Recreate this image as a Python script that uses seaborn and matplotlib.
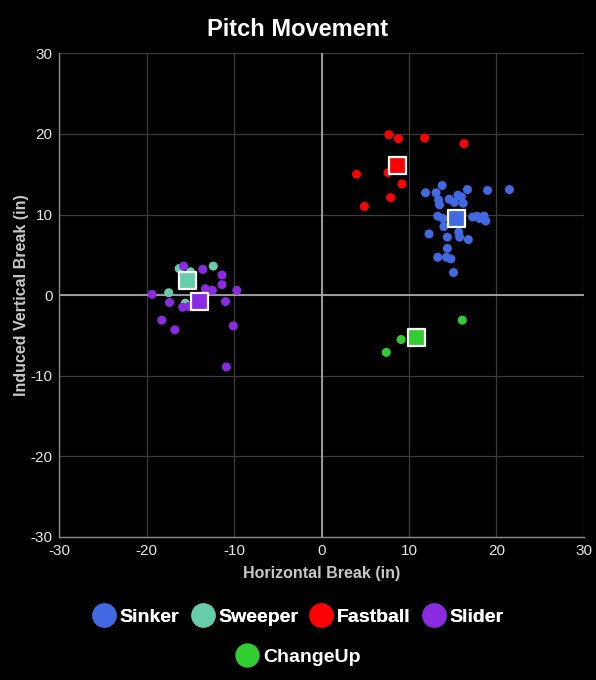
import matplotlib
matplotlib.use("Agg")
import matplotlib.pyplot as plt
from matplotlib.lines import Line2D
import seaborn as sns
import pandas as pd

# pitch types and colours
pitch_types = ["Sinker", "Sweeper", "Fastball", "Slider", "ChangeUp"]
pitch_colors = ["#4169E1", "#66CDAA", "#FF0000", "#8A2BE2", "#32CD32"]

# horizontal / induced vertical break (in)
sinker_hb = [13.8, 16.7, 19.0, 21.5, 11.9, 13.1, 15.6, 16.0, 13.4, 13.5, 14.6, 15.2,
             16.2, 13.3, 13.9, 14.0, 17.3, 17.8, 18.1, 18.6, 18.8, 12.3, 14.4, 15.7,
             15.8, 16.8, 14.4, 13.3, 14.3, 14.8, 15.1]
sinker_ivb = [13.6, 13.1, 13.0, 13.1, 12.7, 12.7, 12.4, 12.2, 11.8, 11.2, 11.9, 11.5,
              11.4, 9.8, 9.5, 8.5, 9.7, 9.8, 9.5, 9.8, 9.2, 7.6, 7.2, 7.8,
              7.2, 6.9, 5.8, 4.7, 4.7, 4.5, 2.8]

sweeper_hb = [-16.3, -12.4, -15.0, -17.5, -15.6]
sweeper_ivb = [3.3, 3.6, 2.9, 0.3, -1.0]

fastball_hb = [7.7, 8.8, 11.8, 16.3, 4.0, 7.6, 9.2, 7.9, 4.9]
fastball_ivb = [19.9, 19.4, 19.5, 18.8, 15.0, 15.2, 13.8, 12.1, 11.0]

slider_hb = [-15.8, -11.4, -11.4, -13.3, -12.5, -9.7, -19.4, -17.4, -15.9, -15.2,
             -11.0, -18.3, -16.8, -10.1, -10.9, -13.6]
slider_ivb = [3.6, 2.5, 1.3, 0.8, 0.6, 0.6, 0.1, -0.9, -1.5, -1.4,
              -0.8, -3.1, -4.3, -3.8, -8.9, 3.2]

changeup_hb = [9.1, 7.4, 16.1]
changeup_ivb = [-5.5, -7.1, -3.1]

hb_values = [sinker_hb, sweeper_hb, fastball_hb, slider_hb, changeup_hb]
ivb_values = [sinker_ivb, sweeper_ivb, fastball_ivb, slider_ivb, changeup_ivb]

axis_ticks = [-30, -20, -10, 0, 10, 20, 30]

rows = []
for name, hbs, ivbs in zip(pitch_types, hb_values, ivb_values):
    for h, v in zip(hbs, ivbs):
        rows.append({"pitch": name, "hb": h, "ivb": v})
df = pd.DataFrame(rows)
means = df.groupby("pitch", sort=False)[["hb", "ivb"]].mean().reset_index()

palette = dict(zip(pitch_types, pitch_colors))

sns.set_style("dark")
plt.rcParams["font.family"] = ["Liberation Sans", "DejaVu Sans"]
plt.rcParams["axes.unicode_minus"] = False

fig = plt.figure(figsize=(5.96, 6.8), dpi=100, facecolor="black")
ax = fig.add_axes([0.0998, 0.2103, 0.8795, 0.7113])
ax.set_facecolor("black")

sns.scatterplot(data=df, x="hb", y="ivb", hue="pitch", palette=palette,
                hue_order=pitch_types, s=42, linewidth=0, legend=False, ax=ax, zorder=3)
sns.scatterplot(data=means, x="hb", y="ivb", hue="pitch", palette=palette,
                hue_order=pitch_types, marker="s", s=150, edgecolor="white",
                linewidth=1.6, legend=False, ax=ax, zorder=4)

ax.set_xlim(-30, 30)
ax.set_ylim(-30, 30)
ax.set_xticks(axis_ticks)
ax.set_yticks(axis_ticks)
ax.grid(True, color="#3c3c3c", linewidth=0.9)
ax.axhline(0, color="#b0b0b0", linewidth=1.2, zorder=2)
ax.axvline(0, color="#b0b0b0", linewidth=1.2, zorder=2)
for side in ["top", "right"]:
    ax.spines[side].set_visible(False)
for side in ["left", "bottom"]:
    ax.spines[side].set_visible(True)
    ax.spines[side].set_color("#8a8a8a")
    ax.spines[side].set_linewidth(1.0)
ax.tick_params(colors="#e6e6e6", labelsize=11, length=3, width=0.8, pad=2)
ax.tick_params(axis="both", color="#8a8a8a")

ax.set_xlabel("Horizontal Break (in)", color="#c8c8c8", fontsize=11.5,
              fontweight="bold", labelpad=6)
ax.set_ylabel("Induced Vertical Break (in)", color="#c8c8c8", fontsize=11.5,
              fontweight="bold", labelpad=1)

fig.text(0.5, 0.956, "Pitch Movement", color="white", fontsize=17,
         fontweight="bold", ha="center", va="center")

handles = [Line2D([], [], marker="o", linestyle="", markersize=17.5,
                  markerfacecolor=c, markeredgewidth=0, label=n)
           for n, c in zip(pitch_types, pitch_colors)]
leg_font = {"size": 14, "weight": "bold"}
leg1 = fig.legend(handles=handles[:4], loc="center", bbox_to_anchor=(0.5, 0.092),
                  ncol=4, frameon=False, prop=leg_font, labelcolor="white",
                  handletextpad=0.2, columnspacing=0.6, handlelength=1.2)
fig.legend(handles=handles[4:], loc="center", bbox_to_anchor=(0.5, 0.034),
           ncol=1, frameon=False, prop=leg_font, labelcolor="white",
           handletextpad=0.2, handlelength=1.2)
fig.add_artist(leg1)

fig.savefig("out.png", dpi=100, facecolor="black")
